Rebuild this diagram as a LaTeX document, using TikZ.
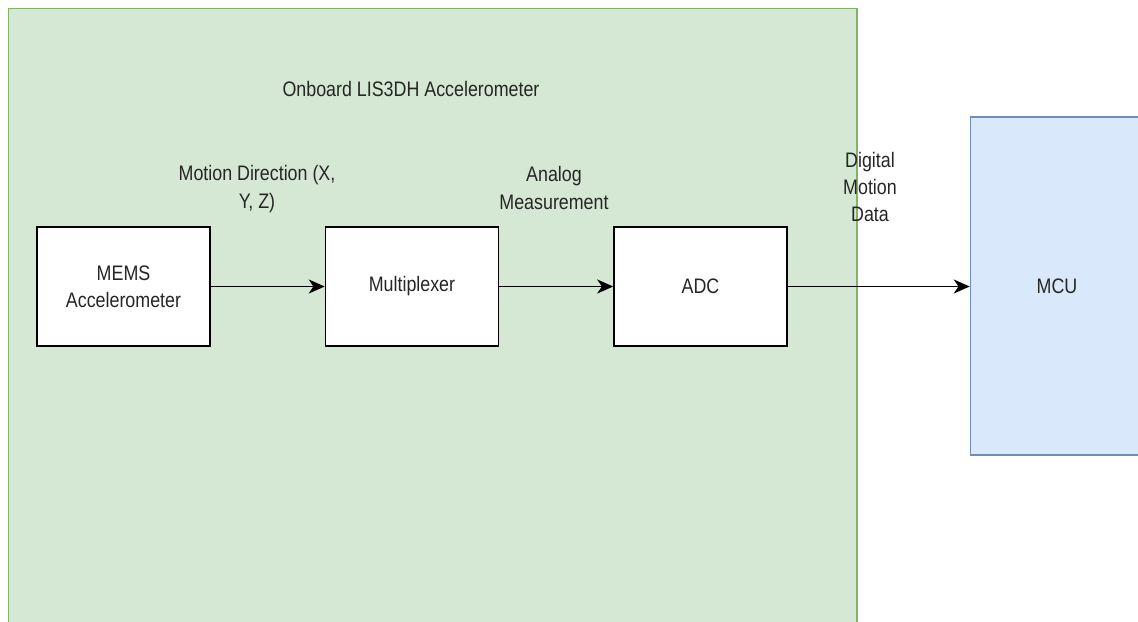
\documentclass[tikz,border=0pt]{standalone}
\usepackage{fontspec}
\setmainfont{Liberation Sans}[FakeStretch=0.85]
\usetikzlibrary{positioning, arrows.meta}
\definecolor{chipfill}{HTML}{D5E8D4}
\definecolor{chipline}{HTML}{82B366}
\definecolor{mcufill}{HTML}{DAE8FC}
\definecolor{mculine}{HTML}{6C8EBF}
\definecolor{ink}{HTML}{262626}

\begin{document}
\begin{tikzpicture}[
  x=0.75pt, y=-0.75pt,
  font=\fontsize{15.75}{20.5}\selectfont,
  every node/.style={align=center, text=ink},
  chip/.style={rectangle, draw=chipline, line width=1.1pt, fill=chipfill,
               minimum width=636.4pt, minimum height=488.6pt, inner sep=0pt},
  block/.style={rectangle, draw=black, line width=1.1pt, fill=white,
                minimum width=129.75pt, minimum height=89.25pt, inner sep=0pt},
  mcubox/.style={block, draw=mculine, fill=mcufill, minimum height=253.5pt},
  lbl/.style={inner sep=0pt},
  arr/.style={-{Stealth[length=12pt, width=10.5pt, inset=3.5pt]}, line width=1.4pt, draw=black}
]
  \clip (0,0) rectangle (1138,621);

  % the accelerometer package
  \node[chip] (chip) at (432.75,334.25) {};
  \node[lbl] (title) at (411,89) {Onboard LIS3DH Accelerometer};

  \node[block] (mems) at (123.5,286.5) {MEMS\\Accelerometer};
  \node[block, right=85.5pt of mems] (mux) {Multiplexer};
  \node[block, right=85.5pt of mux] (adc) {ADC};

  \node[mcubox] (mcu) at (1057,286) {MCU};

  % signal labels
  \node[lbl] (motion) at (257,189) {Motion Direction (X,\\Y, Z)};
  \node[lbl] (analog) at (554,188) {Analog\\Measurement};
  \node[lbl] (digital) at (870,187) {Digital\\Motion\\Data};

  \draw[arr] (mems) -- (mux);
  \draw[arr] (mux) -- (adc);
  \draw[arr] (adc.east) -- (adc.east -| mcu.west);
\end{tikzpicture}
\end{document}
